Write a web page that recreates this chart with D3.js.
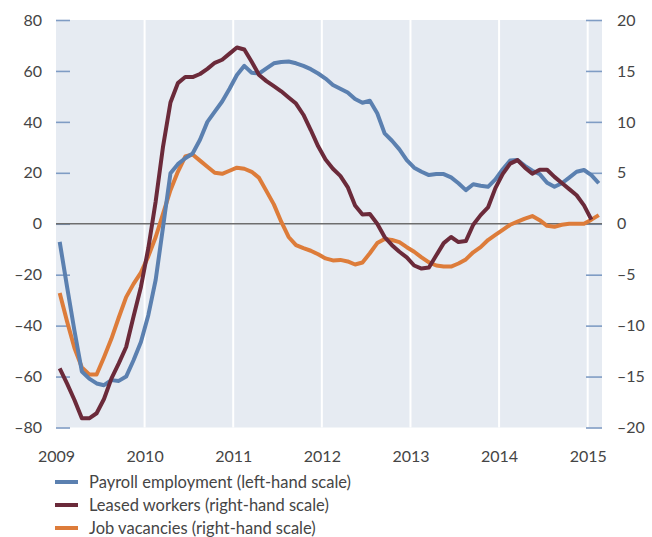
<!DOCTYPE html>
<html>
<head>
<meta charset="utf-8">
<script src="https://cdn.jsdelivr.net/npm/d3@7"></script>
<style>
  body { margin: 0; background: #fff; }
  text { font-family: Lato, "Open Sans", sans-serif; fill: #454545; }
</style>
</head>
<body>
<div class="chart"></div>
<script>
// Monthly series, Jan 2009 onwards
var payroll = [-7.1, -24.8, -42, -58, -60.8, -62.7, -63.4, -61.4, -61.7, -60, -53.6, -46.4,
  -35.9, -22, -1.2, 19.8, 23.4, 25.7, 27.6, 33, 40, 44, 48, 53,
  58.4, 62, 59.3, 59, 61, 63, 63.5, 63.7, 63, 62, 60.7, 59,
  57, 54.5, 53, 51.5, 49, 47.5, 48.3, 43.4, 35.5, 32.6, 29.2, 25,
  22, 20.4, 19.1, 19.5, 19.5, 18.2, 15.9, 13.2, 15.5, 14.9, 14.5, 17.4,
  21.4, 24.8, 25, 22.7, 20.8, 19.5, 16.1, 14.5, 15.9, 18.1, 20.4, 21.1,
  19.1, 15.9];

var leased = [-14.2, -15.7, -17.3, -19.1, -19.1, -18.6, -17.2, -15.2, -13.7, -12.1, -9.1, -6.2,
  -2.4, 2.2, 7.6, 11.9, 13.8, 14.4, 14.4, 14.7, 15.2, 15.8, 16.1, 16.7,
  17.3, 17.1, 15.9, 14.6, 14, 13.5, 13, 12.4, 11.8, 10.7, 9.2, 7.6,
  6.3, 5.4, 4.7, 3.6, 1.8, 0.9, 0.95, 0, -1.3, -2.1, -2.75, -3.3,
  -4.1, -4.4, -4.3, -3.1, -1.9, -1.3, -1.8, -1.7, -0.1, 0.85, 1.6, 3.5,
  4.9, 5.9, 6.25, 5.5, 4.9, 5.3, 5.3, 4.6, 4, 3.4, 2.8, 1.8,
  0.4];

var vacancies = [-6.8, -9.6, -12.2, -14.1, -14.8, -14.8, -13.1, -11.3, -9.2, -7.2, -5.9, -4.8,
  -3.2, -1.3, 1, 3.3, 5.1, 6.6, 6.8, 6.2, 5.6, 5.0, 4.9, 5.2,
  5.5, 5.4, 5.1, 4.5, 3.2, 1.9, 0.2, -1.3, -2.1, -2.4, -2.65, -3.0,
  -3.4, -3.6, -3.55, -3.7, -4.0, -3.8, -2.9, -1.9, -1.5, -1.6, -1.8, -2.3,
  -2.75, -3.3, -3.8, -4.1, -4.2, -4.2, -3.9, -3.5, -2.8, -2.3, -1.6, -1.1,
  -0.6, -0.1, 0.2, 0.5, 0.75, 0.35, -0.2, -0.3, -0.1, 0, 0, 0,
  0.4, 0.85];

var years = [2009, 2010, 2011, 2012, 2013, 2014, 2015];
var leftTicks = [-80, -60, -40, -20, 0, 20, 40, 60, 80];
var rightTicks = [-20, -15, -10, -5, 0, 5, 10, 15, 20];

var seriesNames = [
  "Payroll employment (left-hand scale)",
  "Leased workers (right-hand scale)",
  "Job vacancies (right-hand scale)"
];
var colors = ["#5b80b0", "#6b2a3a", "#dd7c3a"];

var svgWidth = 652;
var svgHeight = 537;
var margin = { top: 20, right: 50, bottom: 110, left: 56 };
var width = 602 - margin.left;
var height = 427.5 - margin.top;

var svg = d3.select(".chart")
  .append("svg")
  .attr("width", svgWidth)
  .attr("height", svgHeight);

var chartGroup = svg.append("g")
  .attr("transform", `translate(${margin.left}, ${margin.top})`);

// scales
var xScale = d3.scaleLinear()
  .domain([2009, 2015 + 14.3 / 88.6])
  .range([0, width]);
var yLeft = d3.scaleLinear().domain([-80, 80]).range([height, 0]);
var yRight = d3.scaleLinear().domain([-20, 20]).range([height, 0]);

// background
chartGroup.append("rect")
  .attr("width", width)
  .attr("height", height)
  .attr("fill", "#e6ebf2");

// year gridlines
chartGroup.selectAll(".vgrid")
  .data(years.slice(1))
  .enter()
  .append("line")
  .attr("x1", d => xScale(d))
  .attr("x2", d => xScale(d))
  .attr("y1", 0)
  .attr("y2", height)
  .attr("stroke", "#fff")
  .attr("stroke-width", 2);

// axes
var minus = d => d < 0 ? "\u2013" + Math.abs(d) : d;
var leftAxis = d3.axisLeft(yLeft).tickValues(leftTicks).tickSize(-14).tickPadding(14)
  .tickFormat(minus);
var rightAxis = d3.axisRight(yRight).tickValues(rightTicks).tickSize(-16).tickPadding(15)
  .tickFormat(minus);
var bottomAxis = d3.axisBottom(xScale).tickValues(years).tickSize(0).tickPadding(23)
  .tickFormat(d3.format("d"));

var gl = chartGroup.append("g").call(leftAxis);
var gr = chartGroup.append("g").attr("transform", `translate(${width}, 0)`).call(rightAxis);
var gb = chartGroup.append("g").attr("transform", `translate(0, ${height})`).call(bottomAxis);

[gl, gr, gb].forEach(function(g) {
  g.select(".domain").remove();
  g.selectAll(".tick line").attr("stroke", "#7f9cc4").attr("stroke-width", 1.6);
  g.selectAll(".tick text").style("font-size", "16px").attr("fill", "#454545");
});

// zero line
chartGroup.append("line")
  .attr("x1", 0)
  .attr("x2", width)
  .attr("y1", yLeft(0))
  .attr("y2", yLeft(0))
  .attr("stroke", "#6e6e6e")
  .attr("stroke-width", 1.5);

// lines
var monthX = (d, i) => xScale(2009 + (i + 0.5) / 12);

chartGroup.append("path")
  .datum(vacancies)
  .attr("fill", "none")
  .attr("stroke", colors[2])
  .attr("stroke-width", 4)
  .attr("stroke-linejoin", "round")
  .attr("d", d3.line().x(monthX).y(d => yRight(d)));

chartGroup.append("path")
  .datum(payroll)
  .attr("fill", "none")
  .attr("stroke", colors[0])
  .attr("stroke-width", 4)
  .attr("stroke-linejoin", "round")
  .attr("d", d3.line().x(monthX).y(d => yLeft(d)));

chartGroup.append("path")
  .datum(leased)
  .attr("fill", "none")
  .attr("stroke", colors[1])
  .attr("stroke-width", 4)
  .attr("stroke-linejoin", "round")
  .attr("d", d3.line().x(monthX).y(d => yRight(d)));

// legend
var legend = svg.selectAll(".legend")
  .data(seriesNames)
  .enter()
  .append("g")
  .attr("transform", (d, i) => `translate(55, ${482 + i * 23})`);

legend.append("line")
  .attr("x1", 0)
  .attr("x2", 23)
  .attr("stroke", (d, i) => colors[i])
  .attr("stroke-width", 4);

legend.append("text")
  .attr("x", 34)
  .attr("dy", "0.35em")
  .style("font-size", "16.5px")
  .text(d => d);
</script>
</body>
</html>
